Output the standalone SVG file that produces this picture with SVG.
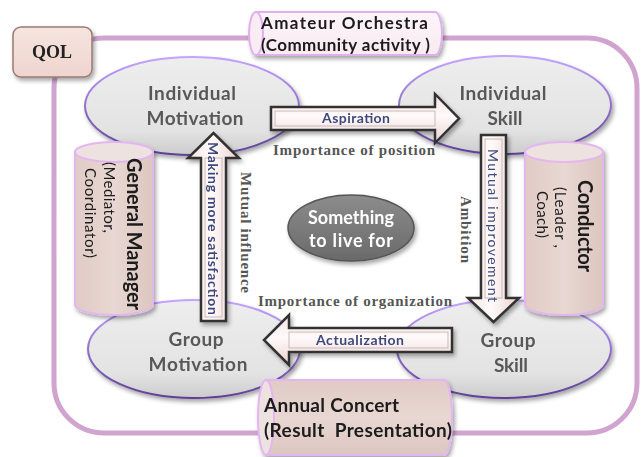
<svg xmlns="http://www.w3.org/2000/svg" width="644" height="457" viewBox="0 0 644 457">
<defs>
  <filter id="sh" x="-15%" y="-15%" width="140%" height="140%">
    <feDropShadow dx="2" dy="3" stdDeviation="2" flood-color="#000" flood-opacity="0.35"/>
  </filter>
  <linearGradient id="eFill" x1="0" y1="0" x2="0" y2="1">
    <stop offset="0" stop-color="#eeeeee"/><stop offset="0.75" stop-color="#e3e3e3"/><stop offset="1" stop-color="#cccccc"/>
  </linearGradient>
  <linearGradient id="eStroke" x1="0" y1="0" x2="0" y2="1">
    <stop offset="0" stop-color="#c4a4ff"/><stop offset="1" stop-color="#5e3f96"/>
  </linearGradient>
  <linearGradient id="cFill" x1="0" y1="0" x2="1" y2="0">
    <stop offset="0" stop-color="#e0cbc5"/><stop offset="0.5" stop-color="#e8d7d2"/><stop offset="1" stop-color="#dcc6c0"/>
  </linearGradient>
  <linearGradient id="hcFill" x1="0" y1="0" x2="0" y2="1">
    <stop offset="0" stop-color="#e0cbc5"/><stop offset="0.5" stop-color="#e8d7d2"/><stop offset="1" stop-color="#dcc6c0"/>
  </linearGradient>
  <linearGradient id="aoFill" x1="0" y1="0" x2="0" y2="1">
    <stop offset="0" stop-color="#fdf5f9"/><stop offset="1" stop-color="#f8eaf1"/>
  </linearGradient>
  <linearGradient id="qFill" x1="0" y1="0" x2="0" y2="1">
    <stop offset="0" stop-color="#f6e4df"/><stop offset="1" stop-color="#eed5ce"/>
  </linearGradient>
  <linearGradient id="hFill" x1="0" y1="0" x2="0" y2="1">
    <stop offset="0" stop-color="#f7e4e2"/><stop offset="0.45" stop-color="#fffafa"/><stop offset="1" stop-color="#ead3d1"/>
  </linearGradient>
  <linearGradient id="vFill" x1="0" y1="0" x2="1" y2="0">
    <stop offset="0" stop-color="#f7e4e2"/><stop offset="0.45" stop-color="#fffafa"/><stop offset="1" stop-color="#ead3d1"/>
  </linearGradient>
  <linearGradient id="sFill" x1="0" y1="0" x2="0" y2="1">
    <stop offset="0" stop-color="#8c8c8c"/><stop offset="1" stop-color="#6a6a6a"/>
  </linearGradient>
</defs>
<style>
  .outer{fill:none;stroke:#d0a4cf;stroke-width:5}
  .oval{fill:url(#eFill);stroke:url(#eStroke);stroke-width:2}
  .olbl{font-family:Lato,"Liberation Sans",sans-serif;font-weight:bold;font-size:19px;fill:#595959;text-anchor:middle}
  .cyl{fill:url(#cFill);stroke:#e4b6f0;stroke-width:2}
  .hcyl{fill:url(#hcFill);stroke:#e4b6f0;stroke-width:2}
  .cap{fill:#eee2e0;stroke:#e4b6f0;stroke-width:2}
  .arrow{stroke:#333333;stroke-width:2.5;stroke-linejoin:miter}
  .inner{fill:none;stroke:#c9b9b9;stroke-width:1}
  .alb{font-family:Lato,"Liberation Sans",sans-serif;font-weight:bold;font-size:14px;fill:#3e4a7c}
  .ser{font-family:"Liberation Serif","Times New Roman",serif;font-weight:bold;font-size:15px;fill:#555555}
  .blk{font-family:Lato,"Liberation Sans",sans-serif;font-weight:bold;fill:#1a1a1a}
  .reg{font-family:Lato,"Liberation Sans",sans-serif;font-size:15px;fill:#1a1a1a}
  .sh{filter:url(#sh)}
</style>

<!-- outer frame -->
<rect class="outer" x="54" y="38" width="583" height="395" rx="50" ry="50"/>

<g id="qol" class="sh">
  <rect x="13" y="27" width="79" height="50" rx="8" ry="8" fill="url(#qFill)" stroke="#9a7a74" stroke-width="1.5"/>
  <text x="52" y="58" text-anchor="middle" style="font-family:'Liberation Serif',serif;font-weight:bold;font-size:18px;fill:#222">QOL</text>
</g>

<g id="amateur-orchestra" class="sh">
  <path d="M256,12 L435,12 A7,21.5 0 0 1 435,55 L256,55 Z" fill="url(#aoFill)" stroke="#e0b0ee" stroke-width="2"/>
  <ellipse cx="256" cy="33.5" rx="7" ry="21.5" fill="#f9ecf3" stroke="#e0b0ee" stroke-width="2"/>
  <text class="blk" x="261" y="29" font-size="17" textLength="167">Amateur Orchestra</text>
  <text class="blk" x="261" y="51" font-size="17" textLength="169">(Community activity )</text>
</g>

<g id="individual-motivation" class="sh">
  <ellipse class="oval" cx="192" cy="106" rx="107" ry="49"/>
  <text class="olbl" x="192" y="100" textLength="88">Individual</text>
  <text class="olbl" x="195" y="125" textLength="97">Motivation</text>
</g>

<g id="individual-skill" class="sh">
  <ellipse class="oval" cx="505" cy="105" rx="106" ry="49"/>
  <text class="olbl" x="503" y="100" textLength="87">Individual</text>
  <text class="olbl" x="505" y="125" textLength="35">Skill</text>
</g>

<g id="group-motivation" class="sh">
  <ellipse class="oval" cx="194" cy="349" rx="106" ry="49"/>
  <text class="olbl" x="196" y="346" textLength="55">Group</text>
  <text class="olbl" x="198" y="371" textLength="99">Motivation</text>
</g>

<g id="group-skill" class="sh">
  <ellipse class="oval" cx="504" cy="349" rx="107" ry="49"/>
  <text class="olbl" x="508" y="347" textLength="55">Group</text>
  <text class="olbl" x="511" y="372" textLength="34">Skill</text>
</g>

<g id="something-to-live-for" class="sh">
  <ellipse cx="351" cy="228" rx="63" ry="33" fill="url(#sFill)" stroke="#555" stroke-width="1.5"/>
  <text x="351" y="224" text-anchor="middle" style="font-family:Lato,'Liberation Sans',sans-serif;font-weight:bold;font-size:18px;fill:#fff" textLength="86">Something</text>
  <text x="351" y="247" text-anchor="middle" style="font-family:Lato,'Liberation Sans',sans-serif;font-weight:bold;font-size:18px;fill:#fff" textLength="84">to live for</text>
</g>

<g id="connectors">
  <!-- Aspiration -->
  <g id="aspiration" class="sh">
    <path class="arrow" fill="url(#hFill)" d="M271,107 L435,107 L435,94 L459,118.5 L435,143 L435,130 L271,130 Z"/>
    <rect class="inner" x="275" y="111" width="160" height="15"/>
    <text class="alb" x="356" y="123" text-anchor="middle" textLength="68">Aspiration</text>
  </g>
  <!-- Mutual improvement -->
  <g id="mutual-improvement" class="sh">
    <path class="arrow" fill="url(#vFill)" d="M481,135 L506,135 L506,298 L519,298 L493.5,322 L468,298 L481,298 Z"/>
    <rect class="inner" x="485" y="139" width="17" height="159"/>
    <text class="alb" font-weight="normal" style="font-weight:normal" transform="translate(488,149) rotate(90)" font-size="16" textLength="153">Mutual improvement</text>
  </g>
  <!-- Actualization -->
  <g id="actualization" class="sh">
    <path class="arrow" fill="url(#hFill)" d="M452,328 L289,328 L289,315 L264,340 L289,365 L289,352 L452,352 Z"/>
    <rect class="inner" x="289" y="332" width="159" height="16"/>
    <text class="alb" x="360" y="345" text-anchor="middle" textLength="88">Actualization</text>
  </g>
  <!-- Making more satisfaction -->
  <g id="making-more-satisfaction" class="sh">
    <path class="arrow" fill="url(#vFill)" d="M201,321 L201,158 L188,158 L213.5,133 L239,158 L226,158 L226,321 Z"/>
    <rect class="inner" x="205" y="158" width="17" height="159"/>
    <text class="alb" transform="translate(208,142) rotate(90)" font-size="15" textLength="173">Making more satisfaction</text>
  </g>
  <!-- relation labels -->
  <text class="ser" x="354" y="155" text-anchor="middle" textLength="162">Importance of position</text>
  <text class="ser" x="355" y="306" text-anchor="middle" textLength="194">Importance of organization</text>
  <text class="ser" transform="translate(241,172) rotate(90)" textLength="121">Mutual influence</text>
  <text class="ser" transform="translate(461,196) rotate(90)" textLength="67">Ambition</text>
</g>

<g id="general-manager" class="sh">
  <path class="cyl" d="M75,152 L75,305 A39,10 0 0 0 153,305 L153,152 Z"/>
  <ellipse class="cap" cx="114" cy="152" rx="39" ry="10"/>
  <text class="blk" font-size="20" transform="translate(127,158) rotate(90)" textLength="152">General Manager</text>
  <text class="reg" transform="translate(104,162) rotate(90)" textLength="71">(Mediator,</text>
  <text class="reg" transform="translate(85,168) rotate(90)" textLength="90">Coordinator)</text>
</g>

<g id="conductor" class="sh">
  <path class="cyl" d="M525,152 L525,305 A39,10 0 0 0 603,305 L603,152 Z"/>
  <ellipse class="cap" cx="564" cy="152" rx="39" ry="10"/>
  <text class="blk" font-size="20" transform="translate(578,180) rotate(90)" textLength="92">Conductor</text>
  <text class="reg" transform="translate(555,187) rotate(90)" textLength="61">(Leader ,</text>
  <text class="reg" transform="translate(537,191) rotate(90)" textLength="47">Coach)</text>
</g>

<g id="annual-concert" class="sh">
  <path class="hcyl" d="M266,380 L444,380 A8,37.5 0 0 1 444,455 L266,455 Z"/>
  <ellipse class="cap" cx="266" cy="417.5" rx="8" ry="37.5"/>
  <text class="blk" x="264" y="412" font-size="19" textLength="135">Annual Concert</text>
  <text class="blk" x="264" y="437" font-size="19" textLength="188" xml:space="preserve">(Result  Presentation)</text>
</g>
</svg>
